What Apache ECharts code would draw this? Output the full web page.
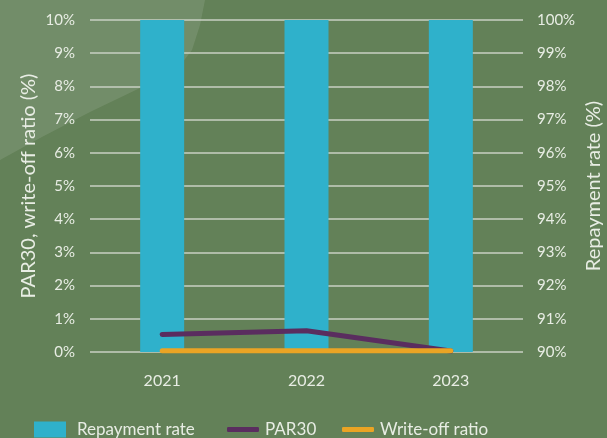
<!DOCTYPE html>
<html>
<head>
<meta charset="utf-8">
<script src="https://cdn.jsdelivr.net/npm/echarts@6/dist/echarts.min.js"></script>
<style>
html,body{margin:0;padding:0;background:#638158;}
#chart{width:607px;height:438px;}
</style>
</head>
<body>
<div id="chart"></div>
<script>
const categories = ['2021', '2022', '2023'];
const repaymentRate = [100, 100, 100];
const par30 = [0.53, 0.64, 0.03];
const writeOffRatio = [0.04, 0.04, 0.04];
const leftTicks = { min: 0, max: 10, interval: 1 };
const rightTicks = { min: 90, max: 100, interval: 1 };

const txt = '#e8ede4';
const font = 'Lato';
const chart = echarts.init(document.getElementById('chart'));
chart.setOption({
  backgroundColor: '#638158',
  animation: false,
  graphic: [{
    type: 'polygon',
    silent: true,
    z: -10,
    shape: { points: [[0,0],[205,0],[200,25],[192,50],[178,68],[140,88],[90,112],[40,138],[0,160]] },
    style: { fill: 'rgba(255,255,255,0.1)' }
  }],
  grid: { left: 90, right: 84, top: 20, bottom: 86, outerBoundsMode: 'none', containLabel: false },
  legend: [
    { data: ['Repayment rate'], left: 29, top: 416, itemWidth: 32, itemHeight: 16, icon: 'rect',
      textStyle: { color: txt, fontFamily: font, fontSize: 17, padding: [0,0,0,6] } },
    { data: ['PAR30'], left: 222, top: 416, itemWidth: 32, itemHeight: 5, icon: 'roundRect',
      textStyle: { color: txt, fontFamily: font, fontSize: 17, padding: [0,0,0,1] } },
    { data: ['Write-off ratio'], left: 337, top: 416, itemWidth: 32, itemHeight: 5, icon: 'roundRect',
      textStyle: { color: txt, fontFamily: font, fontSize: 17, padding: [0,0,0,1] } }
  ],
  xAxis: {
    type: 'category',
    data: categories,
    axisLine: { show: false },
    axisTick: { show: false },
    axisLabel: { color: txt, fontFamily: font, fontSize: 16, margin: 21 }
  },
  yAxis: [
    {
      type: 'value', min: leftTicks.min, max: leftTicks.max, interval: leftTicks.interval,
      name: 'PAR30, write-off ratio (%)', nameLocation: 'middle', nameGap: 51, nameMoveOverlap: false,
      nameTextStyle: { color: txt, fontFamily: font, fontSize: 20 },
      axisLine: { show: false }, axisTick: { show: false },
      axisLabel: { color: txt, fontFamily: font, fontSize: 15, margin: 15, formatter: '{value}%' },
      splitLine: { lineStyle: { color: '#c9d0c3', width: 1.5 } }
    },
    {
      type: 'value', min: rightTicks.min, max: rightTicks.max, interval: rightTicks.interval,
      name: 'Repayment rate (%)', nameLocation: 'middle', nameGap: 61, nameMoveOverlap: false,
      nameTextStyle: { color: txt, fontFamily: font, fontSize: 20 },
      axisLine: { show: false }, axisTick: { show: false },
      axisLabel: { color: txt, fontFamily: font, fontSize: 15, margin: 14, formatter: '{value}%' },
      splitLine: { show: false }
    }
  ],
  series: [
    { name: 'Repayment rate', type: 'bar', yAxisIndex: 1, data: repaymentRate, barWidth: 44,
      itemStyle: { color: '#2fb1cb' } },
    { name: 'PAR30', type: 'line', yAxisIndex: 0, data: par30, showSymbol: false, symbol: 'none',
      lineStyle: { color: '#5a2d5f', width: 5, cap: 'round' }, itemStyle: { color: '#5a2d5f' }, z: 3 },
    { name: 'Write-off ratio', type: 'line', yAxisIndex: 0, data: writeOffRatio, showSymbol: false, symbol: 'none',
      lineStyle: { color: '#eaa424', width: 5, cap: 'round' }, itemStyle: { color: '#eaa424' }, z: 4 }
  ]
});
</script>
</body>
</html>
